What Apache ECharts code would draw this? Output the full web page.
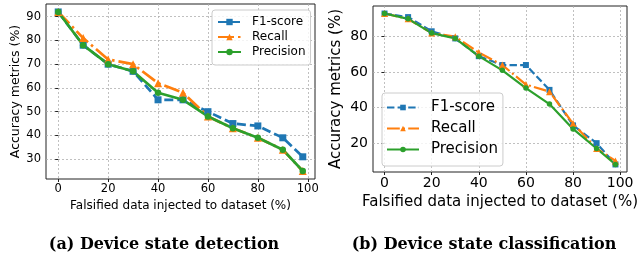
<!DOCTYPE html>
<html><head><meta charset="utf-8">
<script src="https://cdn.jsdelivr.net/npm/echarts@6/dist/echarts.min.js"></script>
<style>html,body{margin:0;padding:0;background:#fff}#c{width:640px;height:261px}</style>
</head><body><div id="c"></div>
<script>
// ---- data ----
const xValues = [0, 10, 20, 30, 40, 50, 60, 70, 80, 90, 98];
const detF1 = [92, 78, 70, 67, 55, 55, 50, 45, 44, 39, 31];
const detRecall = [92, 81, 72, 70, 62, 58, 48, 43, 39, 34, 25];
const detPrecision = [92, 78, 70, 67, 58, 55, 48, 43, 39, 34, 25];
const clsF1 = [93, 91, 83, 79, 69, 64, 64, 50, 30, 20, 8];
const clsRecall = [93, 90, 82, 80, 71, 64, 53, 49, 31, 17, 10];
const clsPrecision = [93, 90, 82, 79, 69, 61, 51, 42, 28, 17, 8];
const xTicks = [0, 20, 40, 60, 80, 100];
const detYTicks = [30, 40, 50, 60, 70, 80, 90];
const clsYTicks = [20, 40, 60, 80];
const seriesNames = ['F1-score', 'Recall', 'Precision'];
const xName = 'Falsified data injected to dataset (%)';
const yName = 'Accuracy metrics (%)';
const captions = ['(a) Device state detection', '(b) Device state classification'];

const colors = ['#1f77b4', '#ff7f0e', '#2ca02c'];
const FONT = 'DejaVu Sans';

function pairs(ys) { return xValues.map((x, i) => [x, ys[i]]); }

function mkSeries(name, ys, idx, lw, dashes, symbols, sizes) {
  const c = colors[seriesNames.indexOf(name.trim())];
  return {
    type: 'line', name: name, xAxisIndex: idx, yAxisIndex: idx,
    data: pairs(ys), symbol: symbols, symbolSize: sizes,
    showSymbol: true, animation: false,
    lineStyle: { color: c, width: lw, type: dashes },
    itemStyle: { color: c, borderWidth: 0 },
    emphasis: { disabled: true }
  };
}

function xAxisCfg(idx, fs, nfs, gap) {
  return {
    type: 'value', gridIndex: idx, min: -4.9, max: 102.9, minInterval: 20, maxInterval: 20,
    axisLine: { show: false },
    axisTick: { show: true, length: 3, customValues: xTicks, lineStyle: { color: '#222', width: 1 } },
    axisLabel: { customValues: xTicks, fontSize: fs, color: '#000', fontFamily: FONT, margin: 4, hideOverlap: false },
    splitLine: { show: true, lineStyle: { color: '#b0b0b0', width: 0.8, type: [2, 2] } },
    name: xName, nameLocation: 'middle', nameGap: gap,
    nameTextStyle: { fontSize: nfs, fontFamily: FONT, color: '#000' }
  };
}
function yAxisCfg(idx, min, max, step, ticks, fs, nfs, gap) {
  return {
    type: 'value', gridIndex: idx, min: min, max: max, minInterval: step, maxInterval: step,
    axisLine: { show: false },
    axisTick: { show: true, length: 3, customValues: ticks, lineStyle: { color: '#222', width: 1 } },
    axisLabel: { customValues: ticks, fontSize: fs, color: '#000', fontFamily: FONT, margin: 5, hideOverlap: false },
    splitLine: { show: true, lineStyle: { color: '#b0b0b0', width: 0.8, type: [2, 2] } },
    name: yName, nameLocation: 'middle', nameGap: gap,
    nameTextStyle: { fontSize: nfs, fontFamily: FONT, color: '#000' }
  };
}

function legendCfg(left, top, pad, iw, ih, fs, lh, gap, tpad, names) {
  return {
    orient: 'vertical', left: left, top: top, padding: pad,
    itemWidth: iw, itemHeight: ih, itemGap: gap,
    backgroundColor: 'rgba(255,255,255,0.8)', borderColor: '#cccccc', borderWidth: 1, borderRadius: 3,
    data: names, selectedMode: false,
    formatter: n => '{t|' + n.trim() + '}',
    textStyle: { fontSize: fs, fontFamily: FONT, color: '#000',
      rich: { t: { fontSize: fs, fontFamily: FONT, color: '#000', lineHeight: lh, padding: [0, 0, 0, tpad] } } }
  };
}

const rightNames = seriesNames.map(n => n + ' ');

const option = {
  animation: false,
  backgroundColor: '#fff',
  grid: [
    { left: 46, top: 4, width: 269, height: 175, show: true, borderColor: '#222', borderWidth: 1, containLabel: false, outerBoundsMode: 'none' },
    { left: 373, top: 6, width: 254, height: 166, show: true, borderColor: '#222', borderWidth: 1, containLabel: false, outerBoundsMode: 'none' }
  ],
  xAxis: [xAxisCfg(0, 11.5, 12, 18), xAxisCfg(1, 14, 15, 21)],
  yAxis: [
    yAxisCfg(0, 21.65, 95.35, 10, detYTicks, 11.5, 12.5, 22),
    yAxisCfg(1, 3.75, 97.25, 20, clsYTicks, 14, 15, 29)
  ],
  legend: [
    legendCfg(212, 10, [6, 5, 7, 5], 23, 8, 12, 14, 3, 6, seriesNames),
    legendCfg(382, 93, [7, 5, 9, 4], 32, 7, 15, 16, 6, 7, rightNames)
  ],
  series: [
    mkSeries(seriesNames[0], detF1, 0, 2.7, [9, 4], 'rect', 7),
    mkSeries(seriesNames[1], detRecall, 0, 2.7, [16, 4, 2.5, 4], 'triangle', 8),
    mkSeries(seriesNames[2], detPrecision, 0, 2.7, 'solid', 'circle', 6.5),
    mkSeries(rightNames[0], clsF1, 1, 2.2, [7.4, 3.2], 'rect', 6),
    mkSeries(rightNames[1], clsRecall, 1, 2.2, [12.8, 3.2, 2, 3.2], 'triangle', 7),
    mkSeries(rightNames[2], clsPrecision, 1, 2.2, 'solid', 'circle', 5.5)
  ],
  graphic: [
    { type: 'text', x: 164, y: 245, style: { text: captions[0], font: 'bold 16px "DejaVu Serif"', fill: '#000', align: 'center', verticalAlign: 'middle' } },
    { type: 'text', x: 484, y: 245, style: { text: captions[1], font: 'bold 16px "DejaVu Serif"', fill: '#000', align: 'center', verticalAlign: 'middle' } }
  ]
};

const chart = echarts.init(document.getElementById('c'), null, { renderer: 'canvas' });
chart.setOption(option);
</script></body></html>
